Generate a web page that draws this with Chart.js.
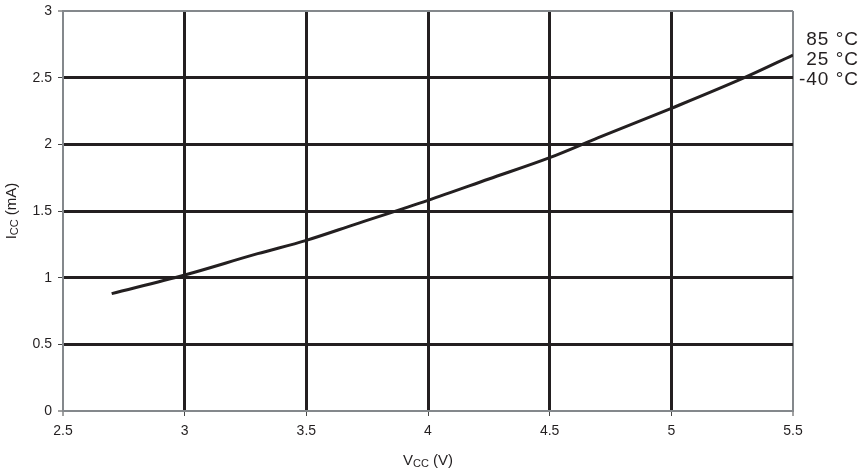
<!DOCTYPE html>
<html>
<head>
<meta charset="utf-8">
<script src="https://cdn.jsdelivr.net/npm/chart.js@4.4.0/dist/chart.umd.min.js"></script>
<style>
html,body{margin:0;padding:0;background:#fff}
</style>
</head>
<body>
<canvas id="myChart" width="861" height="473"></canvas>
<script>
// supply current vs supply voltage (same curve for all temps)
const vcc = [2.7, 3.0, 3.3, 3.5, 3.7, 4.0, 4.25, 4.5, 4.7, 5.0, 5.3, 5.5]
const icc = [0.88, 1.02, 1.18, 1.28, 1.40, 1.58, 1.74, 1.90, 2.05, 2.27, 2.50, 2.67]
const tempLabels = ['85 °C', '25 °C', '-40 °C']
const xTicks = [2.5, 3, 3.5, 4, 4.5, 5, 5.5]
const yTicks = [0, 0.5, 1, 1.5, 2, 2.5, 3]

const FONT = '"Liberation Sans", Arial, sans-serif'
const INK = '#231f20'
const FRAME = '#84888c'

function drawParts(ctx, x, y, parts, align){
    let w = 0
    parts.forEach(p => { ctx.font = `${p[1]}px ${FONT}`; w += ctx.measureText(p[0]).width })
    let cx = align === 'center' ? x - w / 2 : x
    parts.forEach(p => {
        ctx.font = `${p[1]}px ${FONT}`
        ctx.fillText(p[0], cx, y + p[2])
        cx += ctx.measureText(p[0]).width
    })
}

const textPlugin = {
    id: 'texts',
    afterDraw(chart){
        const ctx = chart.ctx
        const area = chart.chartArea
        ctx.save()
        ctx.fillStyle = INK
        ctx.textBaseline = 'middle'
        ctx.textAlign = 'left'
        // x title
        drawParts(ctx, (area.left + area.right) / 2, 461, [['V', 15, 0], ['CC', 11, 3], [' (V)', 15, 0]], 'center')
        // y title
        ctx.save()
        ctx.translate(12, (area.top + area.bottom) / 2)
        ctx.rotate(-Math.PI / 2)
        drawParts(ctx, 0, 0, [['I', 15, 0], ['CC', 11, 3], [' (mA)', 15, 0]], 'center')
        ctx.restore()
        // temperature labels on the right
        ctx.font = `19px ${FONT}`
        ctx.textAlign = 'right'
        ctx.letterSpacing = '1px'
        tempLabels.forEach((t, i) => ctx.fillText(t, 859, 40 + i * 20))
        ctx.restore()
    }
}

const edge = (v, lo, hi) => v === lo || v === hi

new Chart(document.getElementById('myChart'), {
    type: 'scatter',
    data: {
        datasets: [{
            data: vcc.map((x, i) => ({x, y: icc[i]})),
            showLine: true,
            borderColor: INK,
            borderWidth: 3,
            pointRadius: 0,
            cubicInterpolationMode: 'monotone'
        }]
    },
    options: {
        responsive: false,
        animation: false,
        devicePixelRatio: 1,
        layout: {padding: {top: 11, right: 68, left: 0, bottom: 0}},
        plugins: {legend: {display: false}, tooltip: {enabled: false}},
        scales: {
            x: {
                min: 2.5, max: 5.5,
                afterBuildTicks: s => { s.ticks = xTicks.map(v => ({value: v})) },
                afterFit: s => { s.height = 62; s.paddingLeft = 0; s.paddingRight = 0 },
                ticks: {color: INK, font: {family: FONT, size: 14}, padding: 7, callback: v => String(v), maxRotation: 0},
                grid: {
                    color: c => edge(c.tick.value, 2.5, 5.5) ? FRAME : INK,
                    lineWidth: c => edge(c.tick.value, 2.5, 5.5) ? 2 : 3,
                    tickColor: '#444', tickWidth: 1, tickLength: 5
                },
                border: {color: FRAME, width: 2}
            },
            y: {
                min: 0, max: 3,
                afterBuildTicks: s => { s.ticks = yTicks.map(v => ({value: v})) },
                afterFit: s => { s.width = 63; s.paddingTop = 0; s.paddingBottom = 0 },
                ticks: {color: INK, font: {family: FONT, size: 14}, padding: 6, callback: v => String(v)},
                grid: {
                    color: c => edge(c.tick.value, 0, 3) ? FRAME : INK,
                    lineWidth: c => edge(c.tick.value, 0, 3) ? 2 : 3,
                    tickColor: '#444', tickWidth: 1, tickLength: 5
                },
                border: {color: FRAME, width: 2}
            }
        }
    },
    plugins: [textPlugin]
})
</script>
</body>
</html>
